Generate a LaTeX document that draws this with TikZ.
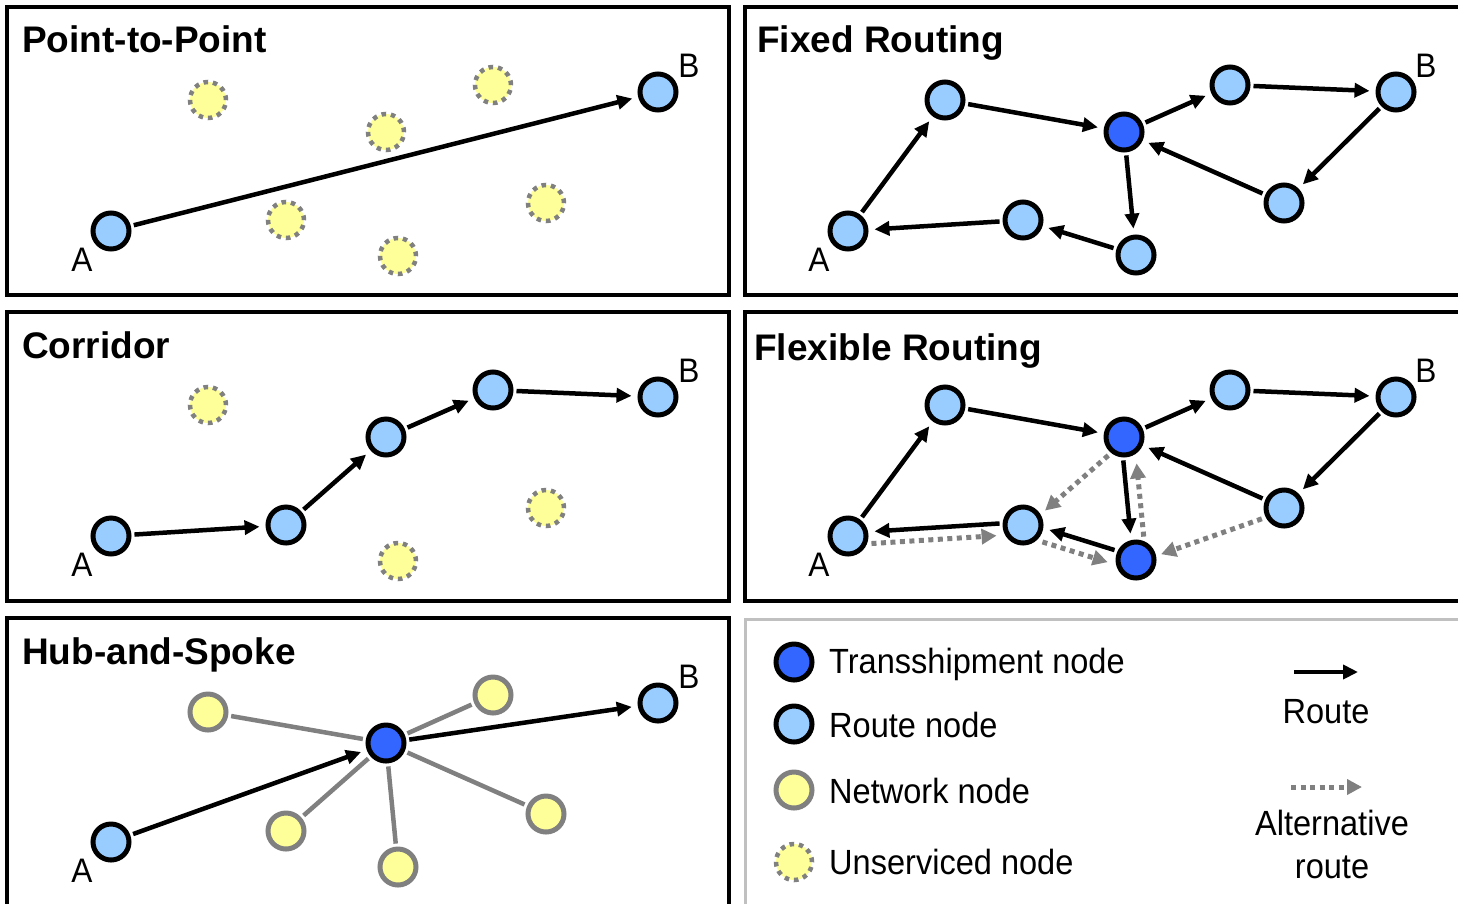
\documentclass[tikz,border=0pt]{standalone}
\usepackage{fontspec}
\setmainfont{Liberation Sans}
\newfontfamily\narrowfont[FakeStretch=0.93]{Liberation Sans}
\usetikzlibrary{arrows.meta}
\definecolor{routeblue}{HTML}{99CCFF}
\definecolor{hubblue}{HTML}{3366FF}
\definecolor{netyellow}{HTML}{FFFF99}
\definecolor{altgray}{HTML}{808080}
\definecolor{legendgray}{HTML}{C0C0C0}
\begin{document}
\begin{tikzpicture}[x=1pt,y=-1pt,
 base/.style={circle, minimum size=36pt, inner sep=0pt, line width=5pt},
 rn/.style={base, draw=black, fill=routeblue},
 hn/.style={base, draw=black, fill=hubblue},
 nn/.style={base, draw=altgray, fill=netyellow},
 un/.style={base, draw=altgray, fill=netyellow, line width=4.5pt, dash pattern=on 4.5pt off 4.9pt},
 frame/.style={draw=black, line width=4.5pt},
 route/.style={draw=black, line width=4.5pt, -{Triangle[length=15pt,width=14pt]}, shorten >=6pt, shorten <=3pt},
 alt/.style={draw=altgray, line width=5pt, dash pattern=on 5pt off 4.5pt, -{Triangle[length=15pt,width=15pt,fill=altgray]}, shorten >=6pt, shorten <=3pt},
 spoke/.style={draw=altgray, line width=4.5pt, shorten >=3pt, shorten <=3pt},
 title/.style={font=\fontsize{37}{40}\selectfont\bfseries, anchor=base west, inner sep=0pt},
 lbl/.style={font=\narrowfont\fontsize{34}{38}\selectfont, inner sep=0pt},
 legtext/.style={font=\narrowfont\fontsize{35}{40}\selectfont, anchor=base west, inner sep=0pt},
 captext/.style={font=\narrowfont\fontsize{35}{40}\selectfont, anchor=base, inner sep=0pt},
]
\useasboundingbox (0,0) rectangle (1458,903);
\clip (0,0) rectangle (1458,903);
\fill[white] (0,0) rectangle (1458,903);

% frames
\draw[frame] (7,7) rectangle (729,295);
\draw[frame] (745,7) rectangle (1475,295);
\draw[frame] (7,312) rectangle (729,601);
\draw[frame] (745,312) rectangle (1475,601);
\draw[frame] (7,618) rectangle (729,920);
\draw[draw=legendgray, line width=3pt] (745,920) |- (1475,619);

% titles
\node[title] (t1) at (22,52) {Point-to-Point};
\node[title] (t2) at (757,52) {Fixed Routing};
\node[title] (t3) at (22,358) {Corridor};
\node[title] (t4) at (754,360) {Flexible Routing};
\node[title] (t5) at (22,664) {Hub-and-Spoke};

% ---------- Point-to-Point ----------
\node[un] (p1u1) at (208,100) {};
\node[un] (p1u2) at (493,85) {};
\node[un] (p1u3) at (386,132) {};
\node[un] (p1u4) at (546,203) {};
\node[un] (p1u5) at (286,220) {};
\node[un] (p1u6) at (398,256) {};
\node[rn] (p1A) at (111,231) {};
\node[rn] (p1B) at (658,92) {};
\node[lbl] (p1la) at (82,260) {A};
\node[lbl] (p1lb) at (689,66) {B};
\draw[route] (p1A) -- (p1B);

% ---------- Fixed Routing ----------
\node[rn] (p2A) at (848,231) {};
\node[rn] (p2n1) at (945,100) {};
\node[hn] (p2h) at (1124,132) {};
\node[rn] (p2n2) at (1230,85) {};
\node[rn] (p2B) at (1396,92) {};
\node[rn] (p2n3) at (1284,203) {};
\node[rn] (p2n4) at (1023,220) {};
\node[rn] (p2n5) at (1136,255) {};
\node[lbl] (p2la) at (819,260) {A};
\node[lbl] (p2lb) at (1426,66) {B};
\draw[route] (p2A) -- (p2n1);
\draw[route] (p2n1) -- (p2h);
\draw[route] (p2h) -- (p2n2);
\draw[route] (p2n2) -- (p2B);
\draw[route] (p2B) -- (p2n3);
\draw[route] (p2n3) -- (p2h);
\draw[route] (p2h) -- (p2n5);
\draw[route] (p2n5) -- (p2n4);
\draw[route] (p2n4) -- (p2A);

% ---------- Corridor ----------
\node[un] (p3u1) at (208,405) {};
\node[un] (p3u2) at (546,508) {};
\node[un] (p3u3) at (398,561) {};
\node[rn] (p3A) at (111,536) {};
\node[rn] (p3c1) at (286,525) {};
\node[rn] (p3c2) at (386,437) {};
\node[rn] (p3c3) at (493,390) {};
\node[rn] (p3B) at (658,397) {};
\node[lbl] (p3la) at (82,565) {A};
\node[lbl] (p3lb) at (689,371) {B};
\draw[route] (p3A) -- (p3c1);
\draw[route] (p3c1) -- (p3c2);
\draw[route] (p3c2) -- (p3c3);
\draw[route] (p3c3) -- (p3B);

% ---------- Flexible Routing ----------
\node[rn] (p4A) at (848,536) {};
\node[rn] (p4n1) at (945,405) {};
\node[hn] (p4h) at (1124,437) {};
\node[rn] (p4n2) at (1230,390) {};
\node[rn] (p4B) at (1396,397) {};
\node[rn] (p4n3) at (1284,508) {};
\node[rn] (p4n4) at (1023,525) {};
\node[hn] (p4n5) at (1136,560) {};
\node[lbl] (p4la) at (819,565) {A};
\node[lbl] (p4lb) at (1426,371) {B};
\draw[route] (p4A) -- (p4n1);
\draw[route] (p4n1) -- (p4h);
\draw[route] (p4h) -- (p4n2);
\draw[route] (p4n2) -- (p4B);
\draw[route] (p4B) -- (p4n3);
\draw[route] (p4n3) -- (p4h);
\draw[route, transform canvas={xshift=-3pt}] (p4h) -- (p4n5);
\draw[route, transform canvas={xshift=1pt,yshift=3pt}] (p4n5) -- (p4n4);
\draw[route, transform canvas={yshift=3pt}] (p4n4) -- (p4A);
\draw[alt, transform canvas={yshift=-9pt}] (p4A) -- (p4n4);
\draw[alt, transform canvas={xshift=-3pt,yshift=-10pt}] (p4n4) -- (p4n5);
\draw[alt, transform canvas={xshift=10pt}] (p4n5) -- (p4h);
\draw[alt, transform canvas={yshift=-3pt}] (p4n3) -- (p4n5);
\draw[alt, transform canvas={xshift=2pt,yshift=-3pt}] (p4h) -- (p4n4);

% ---------- Hub-and-Spoke ----------
\node[rn] (p5A) at (111,842) {};
\node[hn] (p5h) at (386,743) {};
\node[rn] (p5B) at (658,703) {};
\node[nn] (p5w1) at (208,712) {};
\node[nn] (p5w2) at (493,695) {};
\node[nn] (p5w3) at (546,814) {};
\node[nn] (p5w4) at (286,831) {};
\node[nn] (p5w5) at (398,867) {};
\node[lbl] (p5la) at (82,871) {A};
\node[lbl] (p5lb) at (689,677) {B};
\draw[spoke] (p5h) -- (p5w1);
\draw[spoke] (p5h) -- (p5w2);
\draw[spoke] (p5h) -- (p5w3);
\draw[spoke] (p5h) -- (p5w4);
\draw[spoke] (p5h) -- (p5w5);
\draw[route] (p5A) -- (p5h);
\draw[route] (p5h) -- (p5B);

% ---------- Legend ----------
\node[hn] (lg1) at (794,662) {};
\node[rn] (lg2) at (794,724) {};
\node[nn] (lg3) at (794,790) {};
\node[un] (lg4) at (794,862) {};
\node[legtext] (lt1) at (829,673) {Transshipment node};
\node[legtext] (lt2) at (829,737) {Route node};
\node[legtext] (lt3) at (829,803) {Network node};
\node[legtext] (lt4) at (829,874) {Unserviced node};
\coordinate (lr1) at (1294,672);
\coordinate (lr2) at (1358,672);
\coordinate (la1) at (1291,787);
\coordinate (la2) at (1362,787);
\draw[route, shorten >=0pt, shorten <=0pt] (lr1) -- (lr2);
\draw[alt, shorten >=0pt, shorten <=0pt] (la1) -- (la2);
\node[captext] (lc1) at (1326,723) {Route};
\node[captext] (lc2) at (1332,835) {Alternative};
\node[captext] (lc3) at (1332,878) {route};
\end{tikzpicture}
\end{document}
